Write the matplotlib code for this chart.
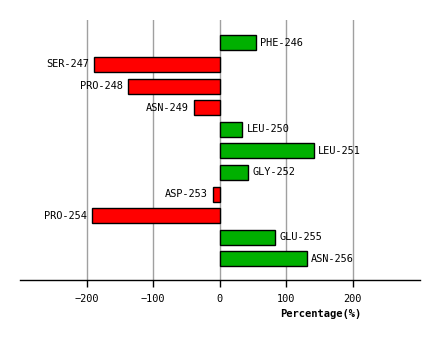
import matplotlib
matplotlib.use("Agg")
import matplotlib.pyplot as plt

residues = ["PHE-246", "SER-247", "PRO-248", "ASN-249", "LEU-250", "LEU-251",
            "GLY-252", "ASP-253", "PRO-254", "GLU-255", "ASN-256"]
percentages = [55, -188.5, -137.5, -38.5, 34, 142, 43, -10, -191.5, 83.5, 131]
xticks = [-200, -100, 0, 100, 200]

fig = plt.figure(figsize=(4.4, 3.4), dpi=100)
ax = fig.add_axes([20 / 440, 1 - 280 / 340, 400 / 440, 260 / 340])

ypos = list(range(len(residues)))
colors = ["#00B000" if v >= 0 else "#FF0000" for v in percentages]
ax.barh(ypos, percentages, height=0.69, color=colors, edgecolor="black",
        linewidth=1.0, zorder=3)

font = dict(family="DejaVu Sans Mono", size=7.4)
for y, v, name in zip(ypos, percentages, residues):
    if v >= 0:
        ax.annotate(name, (v, y), xytext=(3, 0), textcoords="offset points",
                    ha="left", va="center", **font)
    else:
        ax.annotate(name, (v, y), xytext=(-4, 0), textcoords="offset points",
                    ha="right", va="center", **font)

ax.set_xlim(-300, 301)
ax.set_ylim(10.98, -1.06)
ax.set_xticks(xticks)
ax.set_xticklabels([str(t).replace("-", "\u2212") for t in xticks], **font)
ax.set_yticks([])
ax.grid(axis="x", color="#A0A0A0", linewidth=1.0, zorder=0)
for side in ("left", "right", "top"):
    ax.spines[side].set_visible(False)
ax.spines["bottom"].set_linewidth(1.0)
ax.tick_params(axis="x", length=5, width=1.0, pad=5, color="black")

fig.text(321 / 440, 1 - 314 / 340, "Percentage(%)", ha="center", va="center",
         family="DejaVu Sans Mono", size=7.5, weight="bold")

fig.savefig("out.png", dpi=100)
